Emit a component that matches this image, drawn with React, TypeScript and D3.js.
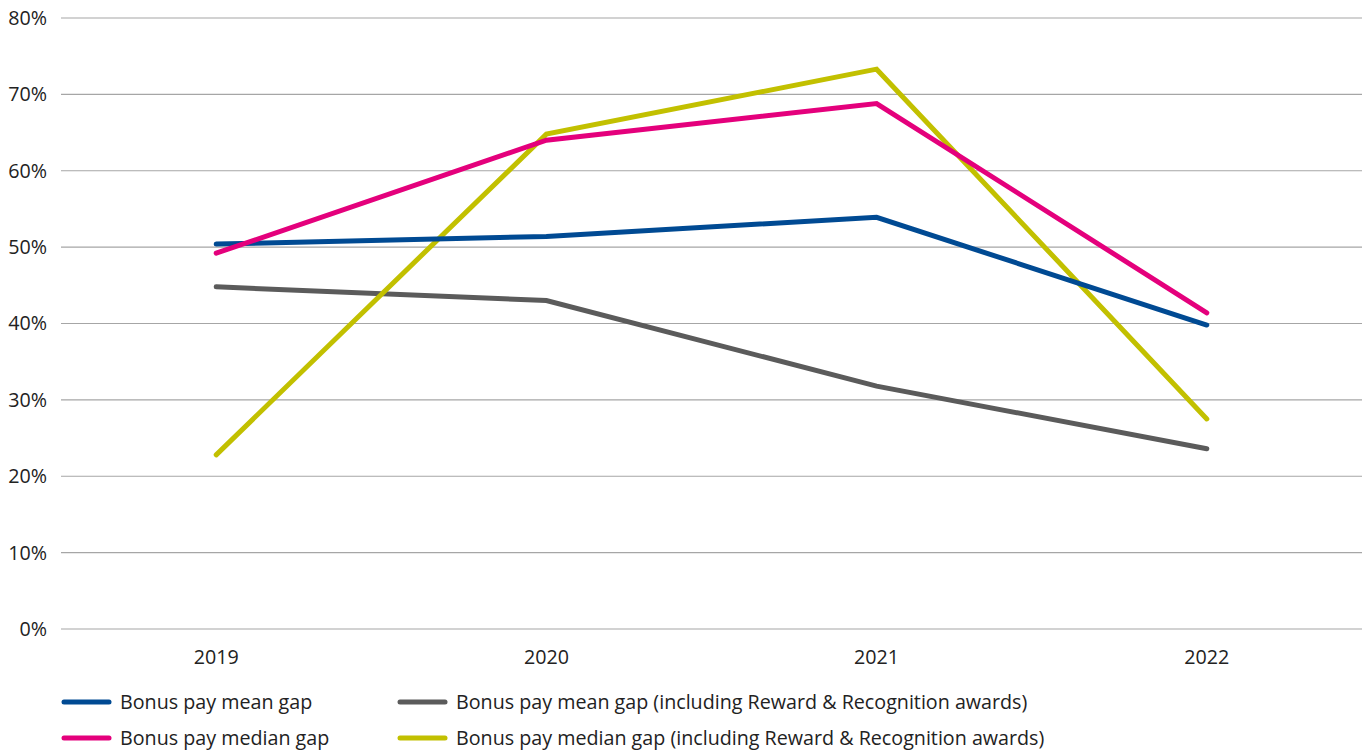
import { useEffect, useRef } from "react";
import * as d3 from "d3";

const years = ["2019", "2020", "2021", "2022"];
const meanGap = [50.4, 51.4, 53.9, 39.8];
const medianGap = [49.2, 64.0, 68.8, 41.4];
const meanGapRR = [44.8, 43.0, 31.8, 23.6];
const medianGapRR = [22.8, 64.8, 73.3, 27.5];
const yTicks = [0, 10, 20, 30, 40, 50, 60, 70, 80];

const series = [
  { name: "Bonus pay mean gap", values: meanGap, color: "#004a93" },
  { name: "Bonus pay mean gap (including Reward & Recognition awards)", values: meanGapRR, color: "#5b5b5b" },
  { name: "Bonus pay median gap", values: medianGap, color: "#e4007c" },
  { name: "Bonus pay median gap (including Reward & Recognition awards)", values: medianGapRR, color: "#c2c000" },
];

// draw order: gray, yellow under blue/pink
const drawOrder = [1, 3, 0, 2];

const W = 1370;
const H = 752;
const FONT = "'Open Sans', Lato, sans-serif";
const FS = 19.7;

export default function App() {
  const ref = useRef<SVGSVGElement | null>(null);

  useEffect(() => {
    if (!ref.current) return;
    const svg = d3.select(ref.current);
    svg.selectAll("*").remove();

    const left = 61;
    const right = 1362;
    const top = 18;
    const bottom = 629;

    const x = d3.scalePoint<string>().domain(years).range([left, right]).padding(0.47);
    const y = d3.scaleLinear().domain([0, 80]).range([bottom, top]);

    const grid = svg.append("g");
    yTicks.forEach((t) => {
      grid
        .append("line")
        .attr("x1", left)
        .attr("x2", right)
        .attr("y1", y(t))
        .attr("y2", y(t))
        .attr("stroke", "#a6a6a6")
        .attr("stroke-width", 1.2);
      grid
        .append("text")
        .attr("x", 47)
        .attr("y", y(t))
        .attr("dy", "0.35em")
        .attr("text-anchor", "end")
        .attr("font-family", FONT)
        .attr("font-size", FS)
        .attr("fill", "#222")
        .text(`${t}%`);
    });

    years.forEach((yr) => {
      svg
        .append("text")
        .attr("x", x(yr)!)
        .attr("y", 664)
        .attr("text-anchor", "middle")
        .attr("font-family", FONT)
        .attr("font-size", FS)
        .attr("fill", "#222")
        .text(yr);
    });

    const line = d3
      .line<number>()
      .x((_d, i) => x(years[i])!)
      .y((d) => y(d));

    drawOrder.forEach((k) => {
      const s = series[k];
      svg
        .append("path")
        .attr("d", line(s.values)!)
        .attr("fill", "none")
        .attr("stroke", s.color)
        .attr("stroke-width", 5)
        .attr("stroke-linecap", "round")
        .attr("stroke-linejoin", "miter");
    });

    const legend = [
      { s: series[0], x: 62, y: 702 },
      { s: series[1], x: 398, y: 702 },
      { s: series[2], x: 62, y: 738 },
      { s: series[3], x: 398, y: 738 },
    ];
    legend.forEach(({ s, x: lx, y: ly }) => {
      svg
        .append("line")
        .attr("x1", lx + 2)
        .attr("x2", lx + 47)
        .attr("y1", ly)
        .attr("y2", ly)
        .attr("stroke", s.color)
        .attr("stroke-width", 5)
        .attr("stroke-linecap", "round");
      svg
        .append("text")
        .attr("x", lx + 58)
        .attr("y", ly)
        .attr("dy", "0.35em")
        .attr("font-family", FONT)
        .attr("font-size", FS)
        .attr("fill", "#222")
        .text(s.name);
    });
  }, []);

  return (
    <svg
      ref={ref}
      width={W}
      height={H}
      style={{ position: "absolute", left: 0, top: 0, display: "block", background: "#fff" }}
    />
  );
}
